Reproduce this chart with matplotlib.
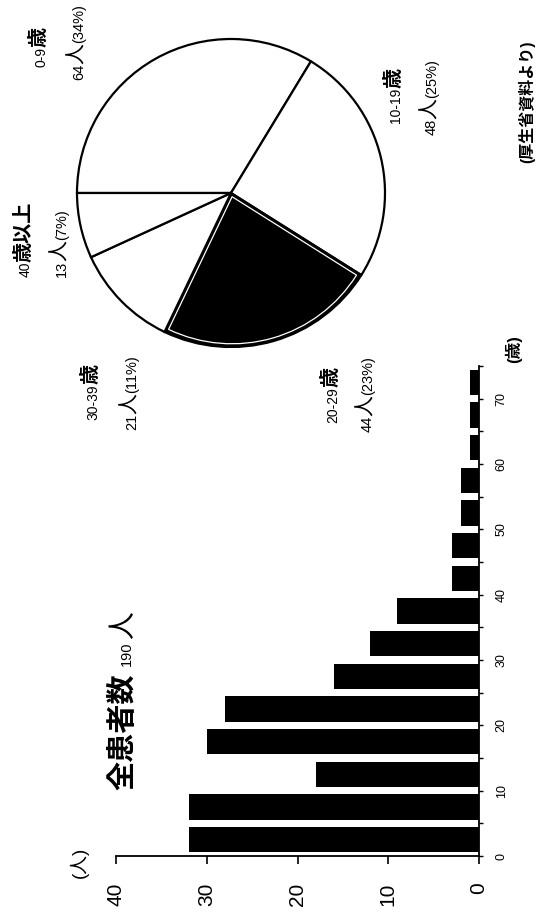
import matplotlib
matplotlib.use("Agg")
import matplotlib.pyplot as plt
import numpy as np

plt.rcParams['font.family'] = ['Liberation Sans', 'Noto Sans CJK JP']

# ---- data ----
bin_starts = [0, 5, 10, 15, 20, 25, 30, 35, 40, 45, 50, 55, 60, 65, 70]
counts = [32, 32, 18, 30, 28, 16, 12, 9, 3, 3, 2, 2, 1, 1, 1]
value_ticks = [0, 10, 20, 30, 40]
age_ticks = list(range(0, 80, 5))
age_labels = [str(a) if a % 10 == 0 and a <= 70 else '' for a in age_ticks]

pie_groups = ['0-9', '10-19', '20-29', '30-39', '40以上']
pie_values = [64, 48, 44, 21, 13]
pie_pcts = [34, 25, 23, 11, 7]
pie_colors = ['white', 'white', 'black', 'white', 'white']

W, H = 536, 923
fig = plt.figure(figsize=(W / 100, H / 100), dpi=100)
fig.patch.set_facecolor('white')

# ---- bar chart (rotated layout: counts run leftwards, ages upwards) ----
bax = fig.add_axes([116 / W, 1 - 856 / H, (479 - 116) / W, (856 - 366) / H])
bax.barh([b + 2.5 for b in bin_starts], counts, height=3.9, color='black')
bax.set_xlim(40, 0)
bax.set_ylim(0, 75)
bax.set_xticks(value_ticks)
bax.set_xticklabels([str(v) for v in value_ticks])
bax.set_yticks(age_ticks)
bax.set_yticklabels(age_labels)
bax.yaxis.tick_right()
for s in ['left', 'top']:
    bax.spines[s].set_visible(False)
for s in ['right', 'bottom']:
    bax.spines[s].set_linewidth(1.3)
bax.tick_params(axis='x', direction='out', length=6, width=1.2, pad=13,
                labelsize=15, labelrotation=90)
bax.tick_params(axis='y', direction='out', length=3, width=1.0, pad=9,
                labelsize=9, labelrotation=90)
for lbl in bax.get_yticklabels():
    lbl.set_va('center')

# ---- pie chart ----
pax = fig.add_axes([(231 - 154) / W, 1 - (193 + 154) / H, 308 / W, 308 / H])
wedges, _ = pax.pie(pie_values, colors=pie_colors, startangle=180, counterclock=False,
                    radius=1.0, wedgeprops=dict(edgecolor='black', linewidth=1.6))
for w in wedges:
    w.set_clip_on(False)
# inner white outline on the dark wedge
theta = np.cumsum([0] + pie_values) / sum(pie_values) * 360.0
mid = np.deg2rad(180 - (theta[2] + theta[3]) / 2)
d = 0.025
inner, _ = pax.pie(pie_values, startangle=180, counterclock=False, radius=0.955,
                   center=(d * np.cos(mid), d * np.sin(mid)),
                   wedgeprops=dict(fill=False, edgecolor='white', linewidth=0.9))
for i, w in enumerate(inner):
    w.set_clip_on(False)
    if pie_colors[i] != 'black':
        w.set_visible(False)
pax.set_xlim(-1, 1)
pax.set_ylim(-1, 1)
pax.set_aspect('equal')
pax.axis('off')

renderer = fig.canvas.get_renderer()


def vlabel(xb, yb, pieces):
    """Vertical (rotated 90) text built from pieces; xb = baseline x px, yb = bottom y px."""
    y = yb
    for piece in pieces:
        s, size, weight = piece[0], piece[1], piece[2]
        gap = piece[3] if len(piece) > 3 else 0
        y -= gap
        t = fig.text(xb / W, 1 - y / H, s, rotation=90, rotation_mode='anchor',
                     ha='left', va='baseline', fontsize=size, fontweight=weight)
        bb = t.get_window_extent(renderer=renderer)
        y -= bb.height


# title
vlabel(131, 790, [('全患者数', 21, 'bold'), ('190', 10.5, 'normal', 7), ('人', 20, 'normal', 3)])
# axis units
vlabel(85, 878, [('(人)', 13.5, 'normal')])
vlabel(519, 363, [('(歳)', 12, 'bold')])
# footnote
vlabel(532, 163, [('(厚生省資料より)', 11.5, 'bold')])

# pie labels
label_pos = [(45, 67, 83, 80), (400, 123, 436, 135), (337, 423, 372, 432),
             (97, 420, 136, 430), (30, 277, 66, 277)]
for g, v, p, (x1, y1, x2, y2) in zip(pie_groups, pie_values, pie_pcts, label_pos):
    if g.endswith('以上'):
        vlabel(x1, y1, [(g[:-2], 10, 'normal'), ('歳以上', 14.5, 'bold')])
    else:
        vlabel(x1, y1, [(g, 10, 'normal'), ('歳', 14.5, 'bold')])
    vlabel(x2, y2, [(str(v), 10.5, 'normal'), ('人', 15, 'normal'), ('(%d%%)' % p, 10.5, 'normal')])

fig.savefig('out.png', dpi=100, facecolor='white')
